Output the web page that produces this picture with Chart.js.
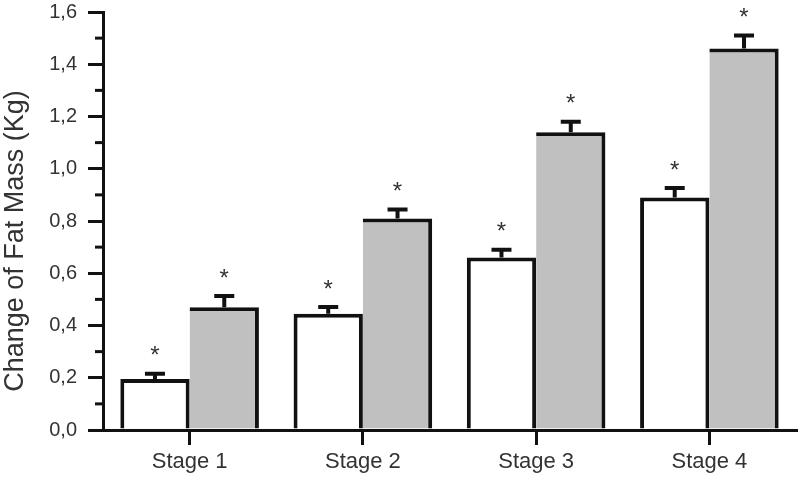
<!DOCTYPE html>
<html><head><meta charset="utf-8">
<script src="https://cdn.jsdelivr.net/npm/chart.js@4"></script>
<style>html,body{margin:0;padding:0;background:#fff}#wrap{width:800px;height:480px}</style>
</head><body><div id="wrap"><canvas id="c" width="800" height="480"></canvas></div>
<script>
const categories = ['Stage 1', 'Stage 2', 'Stage 3', 'Stage 4'];
const seriesA = [0.195, 0.445, 0.66, 0.89];
const seriesB = [0.47, 0.81, 1.14, 1.46];
const errA = [0.02, 0.026, 0.03, 0.036];
const errB = [0.043, 0.034, 0.04, 0.05];
const yTicks = [0, 0.2, 0.4, 0.6, 0.8, 1.0, 1.2, 1.4, 1.6];
const yTitle = 'Change of Fat Mass (Kg)';
const FONT = '"Liberation Sans", Arial, sans-serif';

const errPlugin = {
  id: 'errStars',
  afterDatasetsDraw(chart) {
    const ctx = chart.ctx, y = chart.scales.y;
    const errs = [errA, errB];
    chart.data.datasets.forEach((ds, di) => {
      const meta = chart.getDatasetMeta(di);
      meta.data.forEach((bar, i) => {
        const top = y.getPixelForValue(ds.data[i] + errs[di][i]);
        const base = y.getPixelForValue(ds.data[i]);
        ctx.save();
        ctx.strokeStyle = '#111';
        ctx.lineWidth = 4;
        ctx.beginPath();
        ctx.moveTo(bar.x, base); ctx.lineTo(bar.x, top);
        ctx.moveTo(bar.x - 10, top); ctx.lineTo(bar.x + 10, top);
        ctx.stroke();
        ctx.fillStyle = '#333';
        ctx.font = '24px ' + FONT;
        ctx.textAlign = 'center'; ctx.textBaseline = 'middle';
        ctx.fillText('*', bar.x, top - 17);
        ctx.restore();
      });
    });
    // minor y ticks
    ctx.save();
    ctx.strokeStyle = '#111'; ctx.lineWidth = 3;
    const x0 = chart.chartArea.left;
    for (let k = 0; k < yTicks.length - 1; k++) {
      const v = (yTicks[k] + yTicks[k + 1]) / 2;
      const p = y.getPixelForValue(v);
      ctx.beginPath(); ctx.moveTo(x0 - 8, p); ctx.lineTo(x0, p); ctx.stroke();
    }
    ctx.restore();
    // y axis title
    ctx.save();
    ctx.translate(23, 241);
    ctx.rotate(-Math.PI / 2);
    ctx.fillStyle = '#333';
    ctx.font = '27px ' + FONT;
    ctx.textAlign = 'center'; ctx.textBaseline = 'alphabetic';
    ctx.fillText(yTitle, 0, 0);
    ctx.restore();
  }
};

new Chart(document.getElementById('c'), {
  type: 'bar',
  data: {
    labels: categories,
    datasets: [
      { data: seriesA, backgroundColor: '#ffffff', borderColor: '#111', borderWidth: {top: 4, left: 4, right: 4, bottom: 0}, borderSkipped: false },
      { data: seriesB, backgroundColor: '#c0c0c0', borderColor: '#111', borderWidth: {top: 4, left: 0, right: 4, bottom: 0}, borderSkipped: false }
    ]
  },
  options: {
    responsive: false,
    animation: false,
    devicePixelRatio: 1,
    layout: { padding: { top: 12, right: 4, left: 0, bottom: 0 } },
    plugins: { legend: { display: false }, tooltip: { enabled: false } },
    datasets: { bar: { categoryPercentage: 0.8, barPercentage: 1.0 } },
    scales: {
      x: {
        afterFit(s) { s.height = 50; s.paddingLeft = 0; s.paddingRight = 0; },
        grid: { offset: false, drawOnChartArea: false, tickLength: 15, lineWidth: 3, color: '#111' },
        border: { display: true, width: 3, color: '#111' },
        ticks: { color: '#333', font: { family: FONT, size: 22 }, padding: 4 }
      },
      y: {
        min: 0, max: 1.6,
        afterFit(s) { s.width = 103; s.paddingTop = 0; s.paddingBottom = 0; },
        afterBuildTicks(s) { s.ticks = yTicks.map(v => ({ value: v })); },
        grid: { drawOnChartArea: false, tickLength: 15, lineWidth: 3, color: '#111' },
        border: { display: true, width: 3, color: '#111' },
        ticks: {
          color: '#333', padding: 11,
          font: { family: FONT, size: 20 },
          callback: v => v.toFixed(1).replace('.', ',')
        }
      }
    }
  },
  plugins: [errPlugin]
});
</script></body></html>
